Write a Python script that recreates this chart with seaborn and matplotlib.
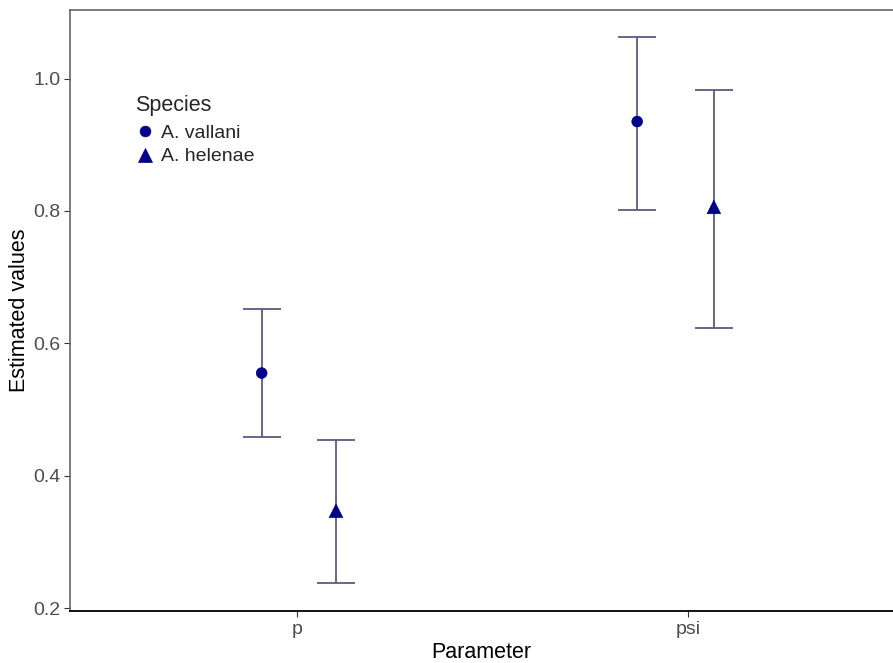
import numpy as np
import pandas as pd
import seaborn as sns
import matplotlib.pyplot as plt

# values
parameters = ["p", "psi"]
species = ["A. vallani", "A. helenae"]
estimates = {
    "A. vallani": [0.555, 0.935],
    "A. helenae": [0.347, 0.806],
}
lower = {
    "A. vallani": [0.459, 0.802],
    "A. helenae": [0.238, 0.623],
}
upper = {
    "A. vallani": [0.652, 1.063],
    "A. helenae": [0.454, 0.983],
}
# horizontal jitter of each point around its category
jitter = {
    "A. vallani": [-0.09, -0.13],
    "A. helenae": [0.10, 0.066],
}

rows = []
for sp in species:
    for i, par in enumerate(parameters):
        rows.append({
            "Parameter": par,
            "Species": sp,
            "x": i + jitter[sp][i],
            "est": estimates[sp][i],
            "lo": lower[sp][i],
            "hi": upper[sp][i],
        })
df = pd.DataFrame(rows)

sns.set_style("white")
plt.rcParams["font.family"] = ["Liberation Sans", "DejaVu Sans"]

fig = plt.figure(figsize=(8.93, 6.63), dpi=100)
ax = fig.add_axes([0.0784, 0.0784, 0.9216, 0.907])

ax.errorbar(
    df["x"], df["est"],
    yerr=[df["est"] - df["lo"], df["hi"] - df["est"]],
    fmt="none", ecolor="#5a5a80", elinewidth=1.3, capsize=13.5, capthick=1.3,
    zorder=1,
)
sns.scatterplot(
    data=df, x="x", y="est", style="Species", hue="Species", size="Species",
    palette={"A. vallani": "#00008B", "A. helenae": "#00008B"},
    markers={"A. vallani": "o", "A. helenae": "^"},
    sizes={"A. vallani": 60, "A. helenae": 95},
    edgecolor="#00008B", linewidth=0.5, ax=ax, zorder=3,
)

ax.set_xlim(-0.58, 1.524)
ax.set_ylim(0.1955, 1.104)
ax.set_xticks(range(len(parameters)))
ax.set_xticklabels(parameters)
ax.set_yticks([0.2, 0.4, 0.6, 0.8, 1.0])
ax.set_yticklabels(["0.2", "0.4", "0.6", "0.8", "1.0"])
ax.set_xlabel("Parameter", fontsize=15.5, color="black", labelpad=3)
ax.set_ylabel("Estimated values", fontsize=15.5, color="black", labelpad=2)
ax.tick_params(axis="both", which="both", length=4, width=0.8, color="#333333",
               labelsize=14, labelcolor="#4d4d4d", bottom=True, left=True, pad=3)

for side in ["top", "left"]:
    ax.spines[side].set_color("#666666")
    ax.spines[side].set_linewidth(1.2)
ax.spines["bottom"].set_color("black")
ax.spines["bottom"].set_linewidth(1.3)
ax.spines["right"].set_visible(False)

leg = ax.legend(
    title="Species", loc="upper left", bbox_to_anchor=(0.079, 0.858),
    frameon=False, fontsize=14, title_fontsize=15.5, handletextpad=0.35,
    handlelength=1.0, labelspacing=0.3, borderaxespad=0, borderpad=0,
)
leg._legend_box.align = "left"
leg._legend_box.sep = 6

fig.savefig("out.png", dpi=100)
